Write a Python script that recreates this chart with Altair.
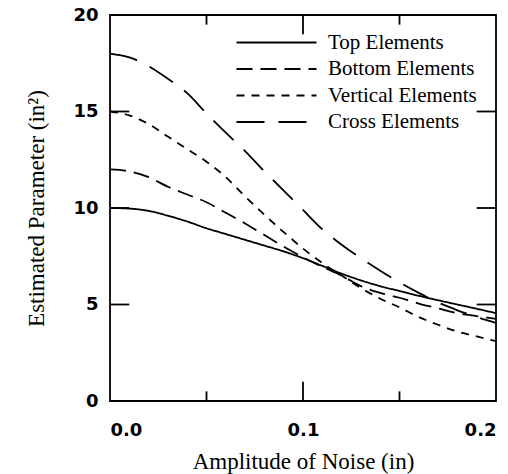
import altair as alt
import pandas as pd

# ---- data ----
x_vals = [0.00, 0.01, 0.02, 0.03, 0.04, 0.05, 0.06, 0.07, 0.08, 0.09, 0.10,
          0.11, 0.12, 0.13, 0.14, 0.15, 0.16, 0.17, 0.18, 0.19, 0.20]
top_vals = [10.0, 9.97, 9.85, 9.6, 9.3, 8.95, 8.65, 8.35, 8.05, 7.75, 7.4,
            7.0, 6.6, 6.25, 5.95, 5.7, 5.45, 5.22, 5.0, 4.78, 4.55]
bottom_vals = [12.0, 11.9, 11.6, 11.1, 10.7, 10.3, 9.75, 9.2, 8.6, 8.0, 7.45,
               6.95, 6.5, 5.95, 5.6, 5.35, 5.05, 4.8, 4.55, 4.4, 4.25]
vertical_vals = [15.0, 14.8, 14.35, 13.7, 13.05, 12.4, 11.6, 10.6, 9.65, 8.75, 7.9,
                 7.15, 6.5, 5.85, 5.3, 4.85, 4.35, 3.95, 3.6, 3.35, 3.1]
cross_vals = [18.0, 17.8, 17.35, 16.7, 15.95, 14.9, 13.9, 12.95, 11.9, 10.9, 9.9,
              8.9, 8.1, 7.4, 6.75, 6.15, 5.6, 5.1, 4.7, 4.35, 4.05]
series_names = ["Top Elements", "Bottom Elements", "Vertical Elements", "Cross Elements"]

x_tick_labels = [0.0, 0.1, 0.2]
y_tick_labels = [0, 5, 10, 15, 20]
y_inner_ticks = [5, 10, 15]
x_major_ticks = [0.1]
x_minor_ticks = [0.05, 0.15]

# ---- build tables ----
rows = []
for name, vals in zip(series_names, [top_vals, bottom_vals, vertical_vals, cross_vals]):
    for xv, yv in zip(x_vals, vals):
        rows.append({"x": xv, "y": yv, "series": name})
df = pd.DataFrame(rows)

X_MIN, X_MAX, Y_MIN, Y_MAX = 0.0, 0.2, 0.0, 20.0
TL_X = 0.01   # tick length in x units
TL_Y = 1.0    # tick length in y units

ytick_rows = []
for v in y_inner_ticks:
    ytick_rows.append({"y": v, "x0": X_MIN, "x1": X_MIN + TL_X})
    ytick_rows.append({"y": v, "x0": X_MAX - TL_X, "x1": X_MAX})
ytick_df = pd.DataFrame(ytick_rows)

xtick_rows = []
for v in x_major_ticks:
    xtick_rows.append({"x": v, "y0": Y_MIN, "y1": Y_MIN + TL_Y})
    xtick_rows.append({"x": v, "y0": Y_MAX - TL_Y, "y1": Y_MAX})
for v in x_minor_ticks:
    xtick_rows.append({"x": v, "y0": Y_MIN, "y1": Y_MIN + TL_Y / 2})
    xtick_rows.append({"x": v, "y0": Y_MAX - TL_Y / 2, "y1": Y_MAX})
xtick_df = pd.DataFrame(xtick_rows)

xs = alt.Scale(domain=[X_MIN, X_MAX], nice=False, zero=False)
ys = alt.Scale(domain=[Y_MIN, Y_MAX], nice=False, zero=False)

lines = alt.Chart(df).mark_line(color="black", strokeWidth=1.8, interpolate="monotone").encode(
    x=alt.X("x:Q", scale=xs,
            axis=alt.Axis(values=x_tick_labels, format=".1f", title="Amplitude of Noise (in)",
                          labelPadding=20, titlePadding=11, titleFontSize=23)),
    y=alt.Y("y:Q", scale=ys,
            axis=alt.Axis(values=y_tick_labels, format="d", title="Estimated Parameter (in²)",
                          labelPadding=12, titlePadding=24, titleFontSize=23)),
    strokeDash=alt.StrokeDash(
        "series:N",
        scale=alt.Scale(domain=series_names, range=[[1, 0], [16, 8], [8, 7], [28, 14]]),
        legend=alt.Legend(orient="none", legendX=156, legendY=17, title=None,
                          symbolType="M-8,0H8", symbolSize=100, symbolStrokeWidth=1.8,
                          symbolStrokeColor="black", labelFont="Liberation Serif",
                          labelFontSize=21, labelColor="black", labelOffset=41,
                          rowPadding=4.5, padding=0),
    ),
)

yticks = alt.Chart(ytick_df).mark_rule(color="black", strokeWidth=1.8).encode(
    x=alt.X("x0:Q", scale=xs), x2="x1:Q", y=alt.Y("y:Q", scale=ys)
)
xticks = alt.Chart(xtick_df).mark_rule(color="black", strokeWidth=1.8).encode(
    x=alt.X("x:Q", scale=xs), y=alt.Y("y0:Q", scale=ys), y2="y1:Q"
)

chart = alt.layer(lines, yticks, xticks).properties(
    width=386, height=386,
    autosize=alt.AutoSizeParams(type="none"),
    padding={"left": 110, "top": 15, "right": 12, "bottom": 73},
).configure_view(
    stroke="black", strokeWidth=1.8
).configure_axis(
    grid=False, ticks=False, domain=False,
    labelFont="DejaVu Sans", labelFontWeight="bold", labelFontSize=18, labelColor="black",
    titleFont="Liberation Serif", titleFontWeight="normal", titleColor="black",
)

chart.save("out.html", embed_options={"renderer": "svg", "actions": False})
